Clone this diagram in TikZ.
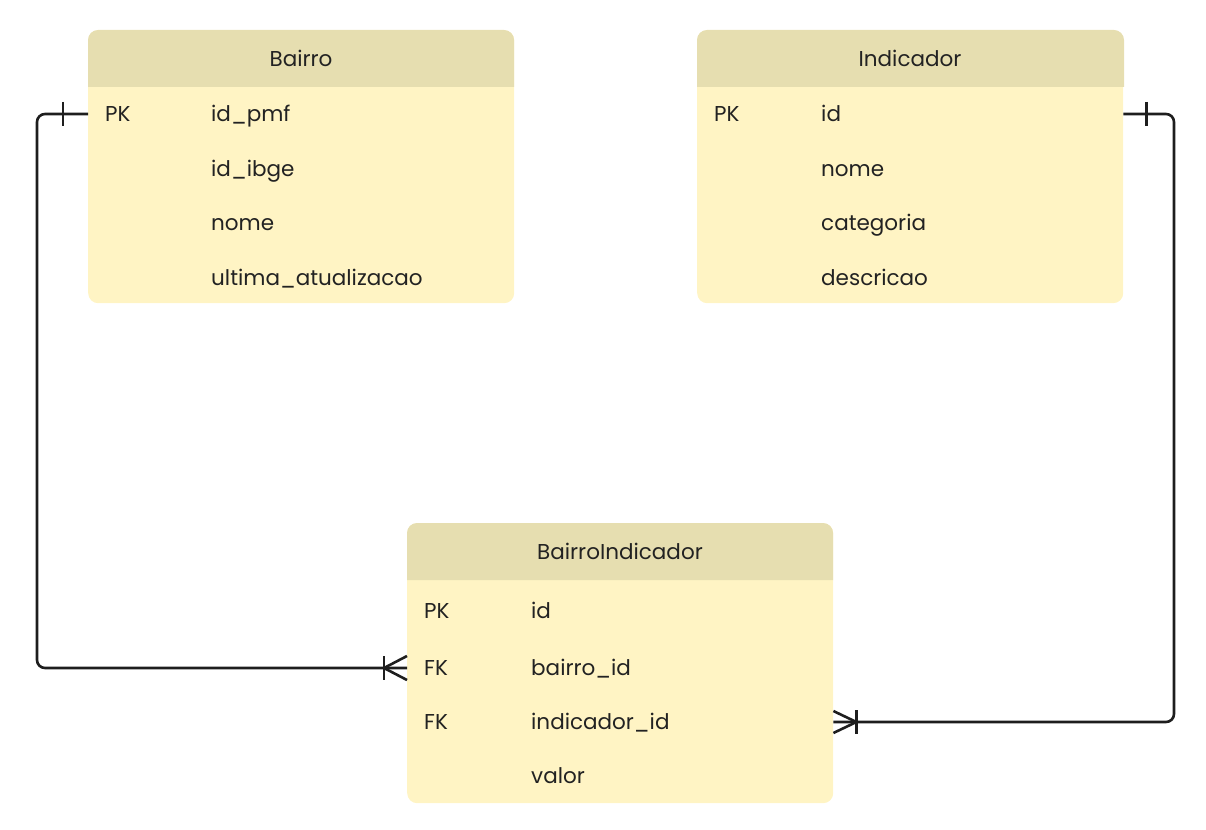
\documentclass[tikz,border=0pt]{standalone}
\usepackage{fontspec}
\setmainfont{Poppins}
\usetikzlibrary{calc}
\definecolor{headc}{RGB}{230,222,176}
\definecolor{bodyc}{RGB}{255,244,196}
\definecolor{txtc}{RGB}{34,34,34}
\definecolor{linec}{RGB}{30,30,30}
\tikzset{
  tbl/.style={fill=bodyc, rounded corners=10pt, inner sep=0pt, minimum width=426pt, minimum height=273pt},
  ttl/.style={text=txtc, font=\fontsize{21.5}{24}\selectfont, inner sep=0pt, anchor=base, yshift=-7.5pt},
  fld/.style={text=txtc, font=\fontsize{21.5}{24}\selectfont, inner sep=0pt, anchor=base west, yshift=-7.5pt},
  conn/.style={draw=linec, line width=2.6pt},
}
\begin{document}
\begin{tikzpicture}[x=1pt,y=-1pt]
\useasboundingbox (0,0) rectangle (1206,829);
% Bairro
\node[tbl, anchor=north west] (bairro) at (88,30) {};
\fill[headc] (88,87) [rounded corners=10pt]-- (88,30) -- (514,30) [sharp corners]-- (514,87) -- cycle;
\node[ttl] (bairroT) at (301,59) {Bairro};
\node[fld] (bpk) at (105,114) {PK};
\node[fld] (b1) at (211,114) {id\_pmf};
\node[fld] (b2) at (211,169) {id\_ibge};
\node[fld] (b3) at (211,223) {nome};
\node[fld] (b4) at (211,278) {ultima\_atualizacao};
% Indicador
\node[tbl, anchor=north west] (ind) at (697,30) {};
\fill[headc] (697,87) [rounded corners=10pt]-- (697,30) -- (1124,30) [sharp corners]-- (1124,87) -- cycle;
\node[ttl] (indT) at (910,59) {Indicador};
\node[fld] (ipk) at (714,114) {PK};
\node[fld] (i1) at (821,114) {id};
\node[fld] (i2) at (821,169) {nome};
\node[fld] (i3) at (821,223) {categoria};
\node[fld] (i4) at (821,278) {descricao};
% BairroIndicador
\node[tbl, anchor=north west, minimum height=280pt] (bi) at (407,523) {};
\fill[headc] (407,580) [rounded corners=10pt]-- (407,523) -- (833,523) [sharp corners]-- (833,580) -- cycle;
\node[ttl] (biT) at (620,552) {BairroIndicador};
\node[fld] (bipk) at (424,611) {PK};
\node[fld] (bifk1) at (424,668) {FK};
\node[fld] (bifk2) at (424,722) {FK};
\node[fld] (bi1) at (531,611) {id};
\node[fld] (bi2) at (531,668) {bairro\_id};
\node[fld] (bi3) at (531,722) {indicador\_id};
\node[fld] (bi4) at (531,776) {valor};
% connectors
\coordinate (a0) at (bairro.west |- 0,114);
\coordinate (a1) at (bi.west |- 0,668);
\draw[conn, rounded corners=8pt] (a0) -- (37,114) -- (37,668) -- (a1);
\draw[conn] ($(a0)+(-25,-12)$) -- ++(0,24);
\draw[conn] ($(a1)+(-23,-12)$) -- ++(0,24);
\draw[conn] ($(a1)+(0,-12)$) -- ($(a1)+(-23,0)$) -- ($(a1)+(0,12)$);
\coordinate (c0) at (ind.east |- 0,114);
\coordinate (c1) at (bi.east |- 0,722);
\draw[conn, rounded corners=8pt] (c0) -- (1174,114) -- (1174,722) -- (c1);
\draw[conn] ($(c0)+(23,-12)$) -- ++(0,24);
\draw[conn] ($(c1)+(23,-12)$) -- ++(0,24);
\draw[conn] ($(c1)+(0,-11)$) -- ($(c1)+(23,0)$) -- ($(c1)+(0,11)$);
\end{tikzpicture}
\end{document}
